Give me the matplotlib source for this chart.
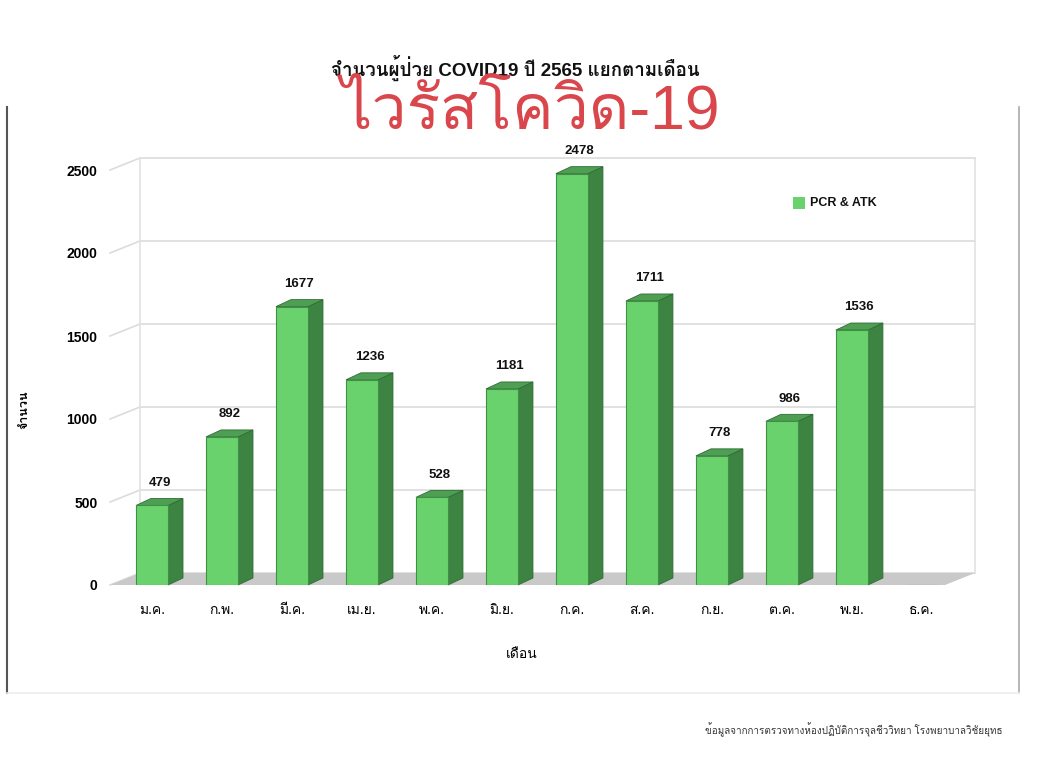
import matplotlib
matplotlib.use("Agg")
import matplotlib.pyplot as plt
import matplotlib.font_manager as fm
from matplotlib.ft2font import FT2Font
from matplotlib.patches import Polygon, Rectangle
from matplotlib.lines import Line2D

# ---------------- data ----------------
months = ["ม.ค.", "ก.พ.", "มี.ค.", "เม.ย.", "พ.ค.", "มิ.ย.", "ก.ค.", "ส.ค.", "ก.ย.", "ต.ค.", "พ.ย.", "ธ.ค."]
cases = [479, 892, 1677, 1236, 528, 1181, 2478, 1711, 778, 986, 1536, None]
yticks = [0, 500, 1000, 1500, 2000, 2500]
title = "จำนวนผู้ป่วย COVID19 ปี 2565 แยกตามเดือน"
overlay = "ไวรัสโควิด-19"
series_name = "PCR & ATK"
xlabel = "เดือน"
ylabel = "จำนวน"
footnote = "ข้อมูลจากการตรวจทางห้องปฏิบัติการจุลชีววิทยา โรงพยาบาลวิชัยยุทธ"

# ---------------- fonts ----------------
thai_fams = []
for f in fm.fontManager.ttflist:
    try:
        cmap = FT2Font(f.fname).get_charmap()
        if 0x0E44 in cmap and f.name not in thai_fams:
            thai_fams.append(f.name)
    except Exception:
        pass
FAM = ["Liberation Sans"] + thai_fams + ["DejaVu Sans"]
plt.rcParams["font.family"] = FAM

W, H = 1062, 780
fig = plt.figure(figsize=(W / 100, H / 100), dpi=100)
fig.patch.set_facecolor("white")

def fx(px):
    return px / W

def fy(py):
    return 1 - py / H

# axes = front plane
L, R, T, B = 110, 945, 170, 585
ax = fig.add_axes([fx(L), fy(B), fx(R - L), (B - T) / H])
ax.set_facecolor("none")
x0, x1 = -0.6, 11.33
ax.set_xlim(x0, x1)
ax.set_ylim(0, 2500)
for s in ax.spines.values():
    s.set_visible(False)

ppx = (x1 - x0) / (R - L)       # data per pixel, x
ppy = 2500 / (B - T)            # data per pixel, y
DX, DY = 30 * ppx, 12 * ppy     # back-wall depth

# floor
ax.add_patch(Polygon([(x0, 0), (x1, 0), (x1 + DX, DY), (x0 + DX, DY)],
                     closed=True, facecolor="#c9c9c9", edgecolor="none",
                     clip_on=False, zorder=1))
# grid lines (diagonal + back)
for v in yticks:
    ax.plot([x0, x0 + DX, x1 + DX], [v, v + DY, v + DY], color="#dcdcdc",
            lw=1.2, clip_on=False, zorder=0.5)
ax.plot([x0 + DX, x0 + DX], [DY, 2500 + DY], color="#e2e2e2", lw=1.2, clip_on=False, zorder=0.5)
ax.plot([x1 + DX, x1 + DX], [DY, 2500 + DY], color="#e2e2e2", lw=1.2, clip_on=False, zorder=0.5)

# bars
bw = 32 * ppx
sdx, sdy = 15 * ppx, 7 * ppy
xs = list(range(len(months)))
vals = [v if v is not None else 0 for v in cases]
front = ax.bar(xs, vals, width=bw, color="#6ad26c", edgecolor="#3f8f45",
               linewidth=0.8, zorder=3)
for x, v in zip(xs, cases):
    if v is None:
        continue
    r = x + bw / 2
    l = x - bw / 2
    ax.add_patch(Polygon([(r, 0), (r + sdx, sdy), (r + sdx, v + sdy), (r, v)],
                         closed=True, facecolor="#3d8443", edgecolor="#2f6c35",
                         lw=0.6, zorder=2.5, clip_on=False))
    ax.add_patch(Polygon([(l, v), (l + sdx, v + sdy), (r + sdx, v + sdy), (r, v)],
                         closed=True, facecolor="#4e9e54", edgecolor="#2f6c35",
                         lw=0.6, zorder=2.6, clip_on=False))
    ax.annotate(str(v), (x + sdx / 2, v + sdy), xytext=(0, 7),
                textcoords="offset points", ha="center", va="bottom",
                fontsize=9.5, fontweight="bold", color="#111111",
                annotation_clip=False)

ax.set_yticks(yticks)
ax.set_yticklabels([str(t) for t in yticks], fontsize=10, fontweight="bold")
ax.set_xticks(xs)
ax.set_xticklabels(months, fontsize=10)
ax.tick_params(axis="both", length=0)
ax.tick_params(axis="y", pad=9)
ax.tick_params(axis="x", pad=13)
ax.set_xlabel(xlabel, fontsize=10)
ax.xaxis.set_label_coords((522 - L) / (R - L), -(647 - B) / (B - T))
ax.set_ylabel(ylabel, fontsize=9, fontweight="bold")
ax.yaxis.set_label_coords((30 - L) / (R - L), (B - 410) / (B - T))

# legend
fig.patches.append(Rectangle((fx(793), fy(209)), fx(12), 12 / H,
                             transform=fig.transFigure, facecolor="#6ad26c",
                             edgecolor="none"))
fig.text(fx(810), fy(203), series_name, fontsize=9, fontweight="bold",
         va="center", ha="left", color="#111111")

# titles
fig.text(fx(515), fy(68), title, fontsize=13.5, fontweight="bold",
         ha="center", va="center", color="#111111")
fig.text(fx(530), fy(112), overlay, fontsize=45, ha="center", va="center",
         color="#d9464c")

# footnote
fig.text(fx(854), fy(730), footnote, fontsize=7.1, ha="center", va="center",
         color="#333333")

# outer frame
fig.add_artist(Line2D([fx(7), fx(7)], [fy(107), fy(693)], transform=fig.transFigure,
                      color="#555555", lw=1.5))
fig.add_artist(Line2D([fx(1019), fx(1019)], [fy(107), fy(693)], transform=fig.transFigure,
                      color="#aaaaaa", lw=1.2))
fig.add_artist(Line2D([fx(7), fx(1019)], [fy(693), fy(693)], transform=fig.transFigure,
                      color="#eeeeee", lw=1.2))

fig.savefig("out.png", dpi=100, facecolor="white")
